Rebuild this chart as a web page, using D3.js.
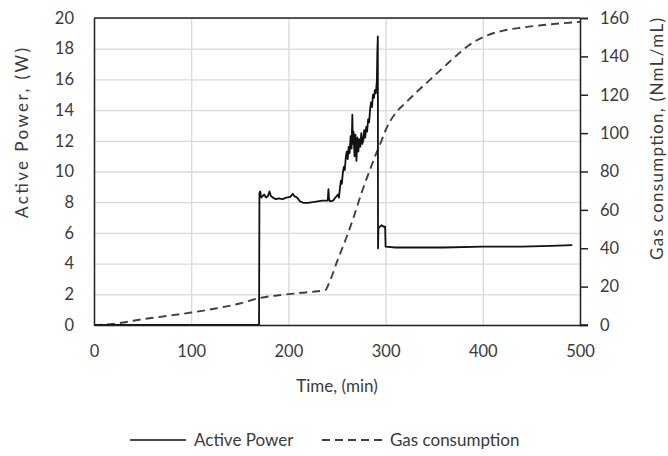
<!DOCTYPE html>
<html>
<head>
<meta charset="utf-8">
<script src="https://cdn.jsdelivr.net/npm/d3@7"></script>
<style>
  body { margin: 0; background: #fff; }
  text { font-family: Lato, "Open Sans", sans-serif; fill: #3a3a3a; }
</style>
</head>
<body>
<div id="chart"></div>
<script>
// Active power vs time (min), with gas consumption on the right axis

var powerTime  = [0, 169.8, 170.2, 171, 172, 173.5, 175, 177, 179, 180.5, 182, 184, 187, 190, 194, 198, 202, 204.5, 206, 209,
                  212, 216, 220, 225, 230, 235, 239, 240.5, 241.2, 241.8, 243, 246, 249, 251, 252, 253, 254, 255, 256, 257,
                  258, 259, 260, 261, 262, 263, 264, 265, 265.8, 266.3, 267, 268, 269, 270, 271, 272, 273, 274, 275, 276,
                  277, 278, 279, 280, 281, 282, 283, 284, 285, 286, 287, 288, 289, 290, 291, 291.5, 292, 292.2, 292.6, 294,
                  296, 298, 299.5, 300, 310, 330, 360, 400, 440, 470, 492];
var powerValue = [0, 0, 8.6, 8.7, 8.3, 8.4, 8.5, 8.3, 8.4, 8.7, 8.4, 8.3, 8.2, 8.25, 8.2, 8.3, 8.35, 8.55, 8.4, 8.3,
                  8.05, 7.95, 7.95, 8.0, 8.05, 8.1, 8.1, 8.1, 8.85, 8.2, 8.05, 8.1, 8.35, 8.5, 8.3, 8.9, 9.4, 9.2, 9.9, 10.3,
                  10.1, 10.9, 11.3, 10.8, 11.6, 11.2, 12.3, 11.5, 13.7, 11.8, 12.6, 11.0, 12.4, 10.7, 12.2, 11.3, 12.1, 11.6, 12.5, 11.8,
                  12.0, 12.7, 12.2, 12.9, 12.6, 13.4, 13.2, 14.0, 14.5, 14.2, 15.0, 14.8, 15.3, 15.1, 15.9, 17.8, 18.8, 5.0, 6.3, 6.4,
                  6.5, 6.4, 6.4, 5.1, 5.05, 5.05, 5.05, 5.1, 5.1, 5.15, 5.2];

var gasTime  = [0, 10, 20, 30, 50, 75, 100, 125, 150, 170, 190, 210, 230, 238, 242, 250, 260, 266, 276, 284,
                290, 295, 300, 305, 312, 320, 330, 345, 360, 373, 385, 400, 420, 440, 460, 480, 500];
var gasValue = [0, 0.2, 0.6, 1.3, 3.0, 4.7, 6.5, 8.6, 11.2, 14.0, 15.5, 16.6, 17.6, 18.2, 22, 33, 46, 54.5, 70, 81,
                89, 95, 101.5, 106.5, 111.5, 115.5, 120.5, 127.5, 134.5, 140.5, 145.5, 150, 153.3, 155, 156.2, 157.2, 158];

var xTicks = [0, 100, 200, 300, 400, 500];
var powerTicks = [0, 2, 4, 6, 8, 10, 12, 14, 16, 18, 20];
var gasTicks = [0, 20, 40, 60, 80, 100, 120, 140, 160];

var W = 668, H = 456;
var margin = {left: 94, top: 18, right: 88, bottom: 131};
var width = W - margin.left - margin.right;
var height = H - margin.top - margin.bottom;

var svg = d3.select("#chart").append("svg")
    .attr("width", W)
    .attr("height", H);

var g = svg.append("g")
    .attr("transform", "translate(" + margin.left + "," + margin.top + ")");

var x = d3.scaleLinear().domain([0, 500]).range([0, width]);
var yP = d3.scaleLinear().domain([0, 20]).range([height, 0]);
var yG = d3.scaleLinear().domain([0, 160]).range([height, 0]);

// grid lines
g.append("g")
    .call(d3.axisBottom(x).tickValues(xTicks).tickSize(height).tickFormat(""))
    .call(function(s) { s.select(".domain").remove(); })
    .selectAll("line").attr("stroke", "#d9d9d9").attr("stroke-width", 1.3);
g.append("g")
    .call(d3.axisLeft(yP).tickValues(powerTicks).tickSize(-width).tickFormat(""))
    .call(function(s) { s.select(".domain").remove(); })
    .selectAll("line").attr("stroke", "#d9d9d9").attr("stroke-width", 1.3);

// lines
var powerData = powerTime.map(function(t, i) { return [t, powerValue[i]]; });
var gasData = gasTime.map(function(t, i) { return [t, gasValue[i]]; });

g.append("path")
    .datum(gasData)
    .attr("fill", "none")
    .attr("stroke", "#404040")
    .attr("stroke-width", 1.9)
    .attr("stroke-dasharray", "8,5")
    .attr("d", d3.line().x(function(d) { return x(d[0]); }).y(function(d) { return yG(d[1]); }).curve(d3.curveMonotoneX));

g.append("path")
    .datum(powerData)
    .attr("fill", "none")
    .attr("stroke", "#111")
    .attr("stroke-width", 1.8)
    .attr("stroke-linejoin", "round")
    .attr("d", d3.line().x(function(d) { return x(d[0]); }).y(function(d) { return yP(d[1]); }));

// plot border (top)
g.append("line")
    .attr("x1", 0).attr("x2", width).attr("y1", 0).attr("y2", 0)
    .attr("stroke", "#222").attr("stroke-width", 1.5);

// axes
var axL = g.append("g")
    .call(d3.axisLeft(yP).tickValues(powerTicks).tickSize(0).tickPadding(20));
var axR = g.append("g")
    .attr("transform", "translate(" + width + ",0)")
    .call(d3.axisRight(yG).tickValues(gasTicks).tickSize(8).tickPadding(12));
var axB = g.append("g")
    .attr("transform", "translate(0," + height + ")")
    .call(d3.axisBottom(x).tickValues(xTicks).tickSize(0).tickPadding(20));

[axL, axR, axB].forEach(function(a) {
    a.select(".domain").attr("stroke", "#222").attr("stroke-width", 1.5);
    a.selectAll(".tick line").attr("stroke", "#222").attr("stroke-width", 1.5);
    a.selectAll("text").style("font-size", "16.5px").style("font-family", "Lato").attr("fill", "#3a3a3a");
});
// bottom axis line runs out to the right tick
axB.append("line").attr("x1", width).attr("x2", width + 8).attr("y1", 0).attr("y2", 0)
    .attr("stroke", "#222").attr("stroke-width", 1.5);

// axis titles
svg.append("text")
    .attr("transform", "translate(22,133) rotate(-90)")
    .attr("text-anchor", "middle")
    .attr("dy", "0.35em")
    .attr("textLength", 170)
    .attr("lengthAdjust", "spacing")
    .style("font-size", "17px")
    .text("Active Power, (W)");
svg.append("text")
    .attr("transform", "translate(657,139) rotate(-90)")
    .attr("text-anchor", "middle")
    .attr("dy", "0.35em")
    .attr("textLength", 242)
    .attr("lengthAdjust", "spacing")
    .style("font-size", "17px")
    .text("Gas consumption, (NmL/mL)");
svg.append("text")
    .attr("x", margin.left + width / 2)
    .attr("y", 386)
    .attr("text-anchor", "middle")
    .attr("dy", "0.35em")
    .style("font-size", "17px")
    .text("Time, (min)");

// legend
var legend = svg.append("g").attr("transform", "translate(0,440)");
legend.append("line").attr("x1", 130).attr("x2", 186).attr("y1", 0).attr("y2", 0)
    .attr("stroke", "#111").attr("stroke-width", 1.6);
legend.append("text").attr("x", 194).attr("y", 0).attr("dy", "0.35em")
    .style("font-size", "17px").text("Active Power");
legend.append("line").attr("x1", 322).attr("x2", 384).attr("y1", 0).attr("y2", 0)
    .attr("stroke", "#404040").attr("stroke-width", 1.8).attr("stroke-dasharray", "8,5");
legend.append("text").attr("x", 390).attr("y", 0).attr("dy", "0.35em")
    .style("font-size", "17px").text("Gas consumption");
</script>
</body>
</html>
